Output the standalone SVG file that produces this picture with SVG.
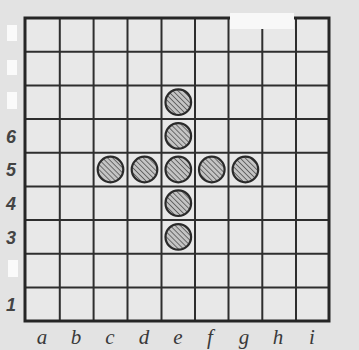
<svg xmlns="http://www.w3.org/2000/svg" width="359" height="350" viewBox="0 0 359 350">
  <defs>
    <pattern id="hatch" patternUnits="userSpaceOnUse" width="3.6" height="3.6" patternTransform="rotate(-45)">
      <rect width="3.6" height="3.6" fill="#c4c4c4"/>
      <line x1="0" y1="0" x2="0" y2="3.6" stroke="#4a4a4a" stroke-width="1.5"/>
    </pattern>
    <style>
      .grid line { stroke: #2e2e2e; stroke-width: 2; }
      .border { fill: none; stroke: #262626; stroke-width: 3; }
      .stone { fill: url(#hatch); stroke: #2a2a2a; stroke-width: 2.2; }
      .lbl { font-family: "Liberation Serif", "DejaVu Serif", serif; font-style: italic; font-size: 21px; fill: #3a3a3a; text-anchor: middle; }
      .num { font-family: "Liberation Sans", "DejaVu Sans", sans-serif; font-style: italic; font-weight: bold; font-size: 18px; fill: #444; text-anchor: middle; }
      .fade { fill: #fafafa; }
    </style>
  </defs>
  <rect width="359" height="350" fill="#e3e3e3"/>
  <rect x="25" y="18" width="304" height="303" fill="#e8e8e8"/>
  <g id="grid" class="grid">
    <line x1="59.8" y1="18" x2="59.8" y2="321"/>
    <line x1="93.6" y1="18" x2="93.6" y2="321"/>
    <line x1="127.5" y1="18" x2="127.5" y2="321"/>
    <line x1="161.5" y1="18" x2="161.5" y2="321"/>
    <line x1="195" y1="18" x2="195" y2="321"/>
    <line x1="228.5" y1="18" x2="228.5" y2="321"/>
    <line x1="262.3" y1="18" x2="262.3" y2="321"/>
    <line x1="296" y1="18" x2="296" y2="321"/>
    <line x1="25" y1="51.7" x2="329" y2="51.7"/>
    <line x1="25" y1="85.4" x2="329" y2="85.4"/>
    <line x1="25" y1="119" x2="329" y2="119"/>
    <line x1="25" y1="152.7" x2="329" y2="152.7"/>
    <line x1="25" y1="186.4" x2="329" y2="186.4"/>
    <line x1="25" y1="220" x2="329" y2="220"/>
    <line x1="25" y1="253.7" x2="329" y2="253.7"/>
    <line x1="25" y1="287.4" x2="329" y2="287.4"/>
  </g>
  <rect class="border" x="25" y="18" width="304" height="303"/>
  <rect x="230" y="13" width="64" height="16" fill="#f8f8f8"/>
  <g id="stones">
    <g id="e7"><circle class="stone" cx="178.3" cy="102.2" r="12.8"/></g>
    <g id="e6"><circle class="stone" cx="178.3" cy="135.9" r="12.8"/></g>
    <g id="c5"><circle class="stone" cx="110.5" cy="169.5" r="12.8"/></g>
    <g id="d5"><circle class="stone" cx="144.5" cy="169.5" r="12.8"/></g>
    <g id="e5"><circle class="stone" cx="178.3" cy="169.5" r="12.8"/></g>
    <g id="f5"><circle class="stone" cx="211.8" cy="169.5" r="12.8"/></g>
    <g id="g5"><circle class="stone" cx="245.4" cy="169.5" r="12.8"/></g>
    <g id="e4"><circle class="stone" cx="178.3" cy="203.2" r="12.8"/></g>
    <g id="e3"><circle class="stone" cx="178.3" cy="236.9" r="12.8"/></g>
  </g>
  <g id="row-labels">
    <rect class="fade" x="7" y="25" width="10" height="16"/>
    <rect class="fade" x="7" y="60" width="10" height="15"/>
    <rect class="fade" x="7" y="92" width="10" height="17"/>
    <rect class="fade" x="8" y="260" width="10" height="17"/>
    <text class="num" x="11" y="143">6</text>
    <text class="num" x="11" y="176">5</text>
    <text class="num" x="11" y="210">4</text>
    <text class="num" x="11" y="244">3</text>
    <text class="num" x="11" y="311">1</text>
  </g>
  <g id="col-labels">
    <text class="lbl" x="42" y="344">a</text>
    <text class="lbl" x="76" y="344">b</text>
    <text class="lbl" x="110" y="344">c</text>
    <text class="lbl" x="144" y="344">d</text>
    <text class="lbl" x="178" y="344">e</text>
    <text class="lbl" x="210" y="344">f</text>
    <text class="lbl" x="244" y="344">g</text>
    <text class="lbl" x="278" y="344">h</text>
    <text class="lbl" x="312" y="344">i</text>
  </g>
</svg>
